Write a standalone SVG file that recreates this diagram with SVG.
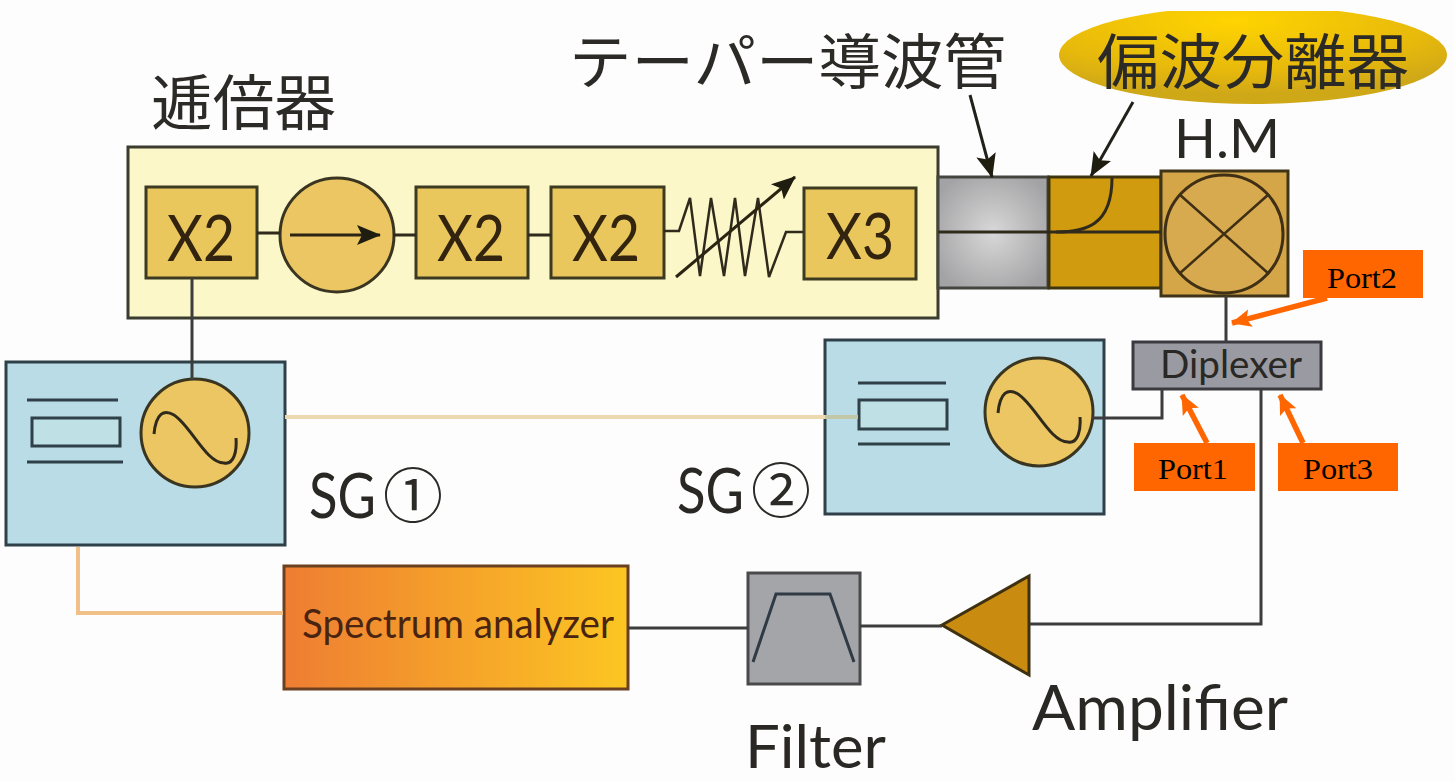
<svg xmlns="http://www.w3.org/2000/svg" width="1455" height="781" viewBox="0 0 1455 781">
<style>
.j{font-family:"Noto Sans CJK JP","Noto Sans",sans-serif;fill:#2c2a26;font-size:60px}
.l{font-family:Lato,"Open Sans",sans-serif;fill:#2a2824}
.x{font-size:64px;fill:#33240f;text-anchor:middle}
.k{fill:none;stroke:#2f2a1c;stroke-width:3}
.b{fill:#e9c75c;stroke:#3c3a20;stroke-width:3}
.s{fill:#b9dce6;stroke:#2f4048;stroke-width:3}
.o{fill:#ff6600}
.p{font-family:"Liberation Serif",serif;font-size:30px;fill:#000;text-anchor:middle}
.a{fill:none;stroke:#ff6600;stroke-width:5.5}
.c{fill:#ecc662;stroke:#3a3520;stroke-width:3}
.d{fill:none;stroke:#22201a;stroke-width:3}
</style>
<defs>
<marker id="oh" markerUnits="userSpaceOnUse" markerWidth="20" markerHeight="20" refX="19" refY="10" orient="auto"><path d="M0 1L20 10L0 19L4 10z" fill="#ff6600"/></marker>
<marker id="kh" markerUnits="userSpaceOnUse" markerWidth="24" markerHeight="24" refX="23" refY="12" orient="auto"><path d="M0 2L24 12L0 22L5 12z" fill="#1f1c10"/></marker>
<radialGradient id="g1" cx=".5" cy=".5" r=".6"><stop offset="0" stop-color="#d8d8d8"/><stop offset="1" stop-color="#a3a3a5"/></radialGradient>
<radialGradient id="g2" cx=".45" cy=".15" r=".75"><stop offset="0" stop-color="#ffd400"/><stop offset=".7" stop-color="#e6b80c"/><stop offset="1" stop-color="#cfa818"/></radialGradient>
<linearGradient id="g3"><stop offset="0" stop-color="#ee7d33"/><stop offset="1" stop-color="#fcc622"/></linearGradient>
<clipPath id="top"><rect x="1000" y="11" width="455" height="110"/></clipPath>
</defs>
<rect width="1455" height="781" fill="#fdfdfd"/>
<g id="doubler">
<rect x="128" y="147" width="810" height="171" fill="#fbf7c8" stroke="#3b3b30" stroke-width="3"/>
<text class="j" x="151" y="125" textLength="185" lengthAdjust="spacingAndGlyphs">逓倍器</text>
</g>
<g id="x2a"><rect class="b" x="146" y="187" width="111" height="91"/><text class="l x" x="201" y="261" textLength="68" lengthAdjust="spacingAndGlyphs">X2</text></g>
<g id="isolator"><circle class="c" cx="337" cy="235" r="57"/><path d="M290 235H380" fill="none" stroke="#2b2412" stroke-width="3" marker-end="url(#kh)"/></g>
<g id="x2b"><rect class="b" x="416" y="187" width="112" height="91"/><text class="l x" x="471" y="261" textLength="68" lengthAdjust="spacingAndGlyphs">X2</text></g>
<g id="x2c"><rect class="b" x="551" y="187" width="113" height="91"/><text class="l x" x="606" y="261" textLength="68" lengthAdjust="spacingAndGlyphs">X2</text></g>
<g id="attenuator">
<path d="M664 231H679L690 198L700 276L711 198L724 276L735 198L745 276L758 198L769 277L786 232H804" fill="none" stroke="#2f2a1c" stroke-width="2.5"/>
<path d="M676 277L795 177" fill="none" stroke="#2b2412" stroke-width="3" marker-end="url(#kh)"/>
</g>
<g id="x3"><rect class="b" x="804" y="188" width="112" height="91"/><text class="l x" x="860" y="259" textLength="68" lengthAdjust="spacingAndGlyphs">X3</text></g>
<g id="taper">
<rect x="938" y="177" width="110" height="111" fill="url(#g1)" stroke="#45453f" stroke-width="3"/>
<text class="j" x="569" y="84" textLength="437" lengthAdjust="spacingAndGlyphs">テーパー導波管</text>
</g>
<g id="omt">
<rect x="1049" y="177" width="112" height="111" fill="#d09b0e" stroke="#3f3410" stroke-width="3"/>
<path d="M1056 232C1085 232 1112 226 1112 178" class="k"/>
<ellipse cx="1253" cy="55" rx="194" ry="49" fill="url(#g2)" clip-path="url(#top)"/>
<text class="j" x="1097" y="84" textLength="312" lengthAdjust="spacingAndGlyphs">偏波分離器</text>
</g>
<g id="hm">
<rect x="1161" y="171" width="127" height="125" fill="#d4a648" stroke="#3f3418" stroke-width="3"/>
<circle cx="1224" cy="234" r="59" fill="#d8aa50" stroke="#3f2f14" stroke-width="3"/>
<path d="M1179 194L1269 274M1269 194L1179 274" fill="none" stroke="#3f2f14" stroke-width="2.5"/>
<text class="l" x="1174" y="158" font-size="55" textLength="106" lengthAdjust="spacingAndGlyphs">H.M</text>
</g>
<g id="sg1">
<rect class="s" x="6" y="362" width="279" height="183"/>
<path d="M27 400H118M27 462H123" fill="none" stroke="#2f4048" stroke-width="3"/>
<rect x="32" y="418" width="88" height="28" fill="#bfe0e4" stroke="#2f4048" stroke-width="3"/>
<circle class="c" cx="195" cy="433" r="54"/>
<path d="M154 434C156 413 164 409 174 415C191 426 206 463 224 463C234 465 237 451 236 438" class="k"/>
<text class="l" x="309" y="518" font-size="62" textLength="67" lengthAdjust="spacingAndGlyphs">SG</text>
<text class="j" x="383" y="518">①</text>
</g>
<g id="sg2">
<rect class="s" x="825" y="340" width="279" height="174"/>
<path d="M858 383H946M858 444H950" fill="none" stroke="#2f4048" stroke-width="3"/>
<rect x="859" y="400" width="88" height="29" fill="#bfe0e4" stroke="#2f4048" stroke-width="3"/>
<circle class="c" cx="1039" cy="412" r="54"/>
<path d="M998 413C1000 392 1008 388 1018 394C1035 405 1050 442 1068 442C1078 444 1081 430 1080 417" class="k"/>
<text class="l" x="677" y="513" font-size="62" textLength="67" lengthAdjust="spacingAndGlyphs">SG</text>
<text class="j" x="751" y="513">②</text>
</g>
<g id="diplexer">
<rect x="1133" y="342" width="188" height="47" fill="#9a9aa2" stroke="#3a3a40" stroke-width="3"/>
<text class="l" x="1160" y="378" font-size="38" textLength="142" lengthAdjust="spacingAndGlyphs">Diplexer</text>
</g>
<g id="analyzer">
<rect x="284" y="566" width="344" height="123" fill="url(#g3)" stroke="#6a4020" stroke-width="3"/>
<text class="l" x="302" y="638" font-size="40" style="fill:#4a2410" textLength="312" lengthAdjust="spacingAndGlyphs">Spectrum analyzer</text>
</g>
<g id="filter">
<rect x="748" y="573" width="112" height="111" fill="#a3a5a8" stroke="#4a4a4c" stroke-width="3"/>
<path d="M753 662L776 594H830L854 662" fill="none" stroke="#2f3a44" stroke-width="3"/>
<text class="l" x="745" y="768" font-size="60" textLength="141" lengthAdjust="spacingAndGlyphs">Filter</text>
</g>
<g id="amplifier">
<path d="M942 625L1029 576V675Z" fill="#c98c10" stroke="#3f3010" stroke-width="3"/>
<text class="l" x="1032" y="730" font-size="62" textLength="256" lengthAdjust="spacingAndGlyphs">Amplifier</text>
</g>
<g id="connectors">
<path d="M285 417H858" fill="none" stroke="#ecd9b0" stroke-width="4"/>
<path d="M825 417H858" fill="none" stroke="#c2c7a8" stroke-width="4"/>
<path d="M78 547V613H283" fill="none" stroke="#f0c088" stroke-width="4"/>
<path class="k" d="M257 233H280M393 235H416M528 235H551M938 232H1161"/>
<path class="d" d="M970 95L992 177" marker-end="url(#kh)"/>
<path class="d" d="M1133 102L1091 176" marker-end="url(#kh)"/>
<path d="M192 278V380M1226 296V342M1092 418H1162V389M1261 389V624H1030M860 626H942M628 628H748" fill="none" stroke="#3d3d3d" stroke-width="3"/>
</g>
<g id="port2"><rect class="o" x="1303" y="250" width="120" height="48"/><text class="p" x="1362" y="288" textLength="70" lengthAdjust="spacingAndGlyphs">Port2</text><path class="a" d="M1327 298L1232 323" marker-end="url(#oh)"/></g>
<g id="port1"><rect class="o" x="1134" y="443" width="121" height="48"/><text class="p" x="1193" y="479" textLength="70" lengthAdjust="spacingAndGlyphs">Port1</text><path class="a" d="M1207 443L1182 395" marker-end="url(#oh)"/></g>
<g id="port3"><rect class="o" x="1278" y="443" width="120" height="48"/><text class="p" x="1338" y="479" textLength="70" lengthAdjust="spacingAndGlyphs">Port3</text><path class="a" d="M1303 443L1280 395" marker-end="url(#oh)"/></g>
</svg>
